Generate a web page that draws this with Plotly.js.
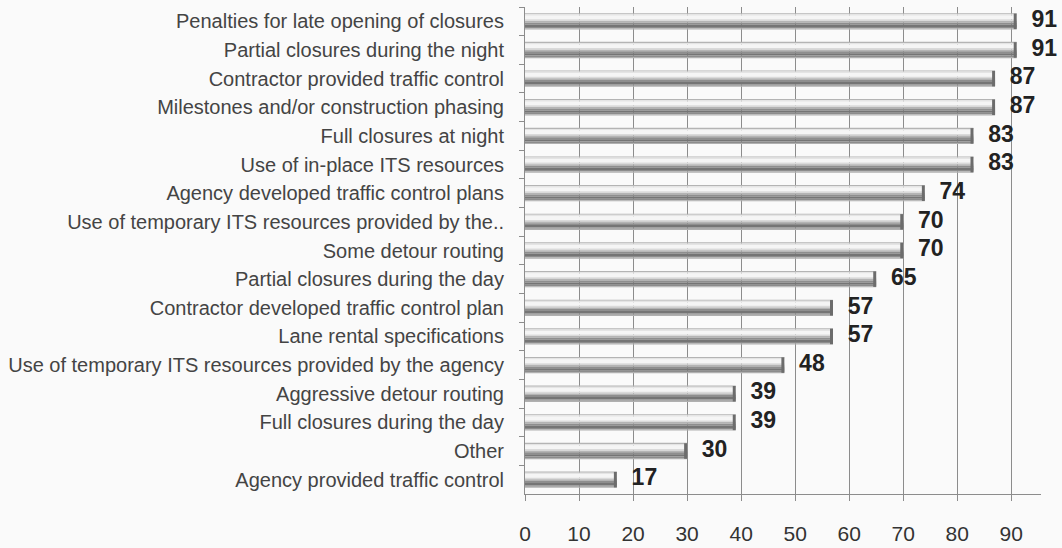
<!DOCTYPE html>
<html>
<head>
<meta charset="utf-8">
<script src="https://cdn.plot.ly/plotly-3.0.1.min.js"></script>
<style>html,body{margin:0;padding:0;background:#fafafa;}#chart{width:1062px;height:548px;}</style>
</head>
<body>
<div id="chart"></div>
<script>
const categories = [
  "Penalties for late opening of closures",
  "Partial closures during the night",
  "Contractor provided traffic control",
  "Milestones and/or construction phasing",
  "Full closures at night",
  "Use of in-place ITS resources",
  "Agency developed traffic control plans",
  "Use of temporary ITS resources provided by the..",
  "Some detour routing",
  "Partial closures during the day",
  "Contractor developed traffic control plan",
  "Lane rental specifications",
  "Use of temporary ITS resources provided by the agency",
  "Aggressive detour routing",
  "Full closures during the day",
  "Other",
  "Agency provided traffic control"
];
const values = [91, 91, 87, 87, 83, 83, 74, 70, 70, 65, 57, 57, 48, 39, 39, 30, 17];
const xTicks = [0, 10, 20, 30, 40, 50, 60, 70, 80, 90];

// cylinder shading bands: [start fraction from top, end fraction, colour]
const W = 0.57;
const bands = [
  [0.00, 0.07, '#b4b4b4'],
  [0.07, 0.16, '#e4e4e4'],
  [0.16, 0.38, '#f5f5f5'],
  [0.38, 0.48, '#dadada'],
  [0.48, 0.58, '#b4b4b4'],
  [0.58, 0.70, '#8e8e8e'],
  [0.70, 0.84, '#757575'],
  [0.84, 0.93, '#8c8c8c'],
  [0.93, 1.00, '#b0b0b0']
];

const traces = bands.map(b => ({
  type: 'bar', orientation: 'h',
  y: categories, x: values,
  width: (b[1] - b[0]) * W,
  offset: -W / 2 + b[0] * W,
  marker: {color: b[2], line: {width: 0}},
  hoverinfo: 'skip', showlegend: false
}));

// end cap
const capLen = 0.55;
traces.push({
  type: 'bar', orientation: 'h',
  y: categories, x: values.map(() => capLen), base: values.map(v => v - capLen),
  width: W * 0.95, offset: -W * 0.95 / 2,
  marker: {color: '#6c6c6c', line: {width: 0}},
  hoverinfo: 'skip', showlegend: false
});

// value labels
traces.push({
  type: 'scatter', mode: 'markers+text',
  y: categories, x: values,
  text: values.map(String),
  textposition: 'middle right',
  marker: {size: 22, opacity: 0},
  textfont: {family: 'Liberation Sans, Arial, sans-serif', size: 23, color: '#222', weight: 'bold'},
  cliponaxis: false, hoverinfo: 'skip', showlegend: false
});

const layout = {
  width: 1062, height: 548,
  margin: {l: 525, r: 21, t: 7, b: 54},
  paper_bgcolor: '#fafafa', plot_bgcolor: '#fafafa',
  barmode: 'overlay',
  showlegend: false,
  xaxis: {
    range: [0, 95.5],
    tickvals: xTicks, ticktext: xTicks.map(String),
    showgrid: true, gridcolor: '#8c8c8c', gridwidth: 1,
    zeroline: false,
    showline: true, linecolor: '#8c8c8c', linewidth: 1,
    ticks: 'outside', ticklen: 6, tickcolor: '#8c8c8c',
    ticklabelstandoff: 15,
    tickfont: {family: 'Liberation Sans, Arial, sans-serif', size: 21, color: '#333'}
  },
  yaxis: {
    type: 'category',
    range: [categories.length - 0.5, -0.5],
    showgrid: false, zeroline: false,
    showline: true, linecolor: '#8c8c8c', linewidth: 1,
    ticks: 'outside', ticklen: 5, tickcolor: '#8c8c8c', tickson: 'boundaries',
    ticklabelstandoff: 16,
    tickfont: {family: 'Liberation Sans, Arial, sans-serif', size: 20, color: '#444'}
  }
};

Plotly.newPlot('chart', traces, layout, {displayModeBar: false, staticPlot: true});
</script>
</body>
</html>
